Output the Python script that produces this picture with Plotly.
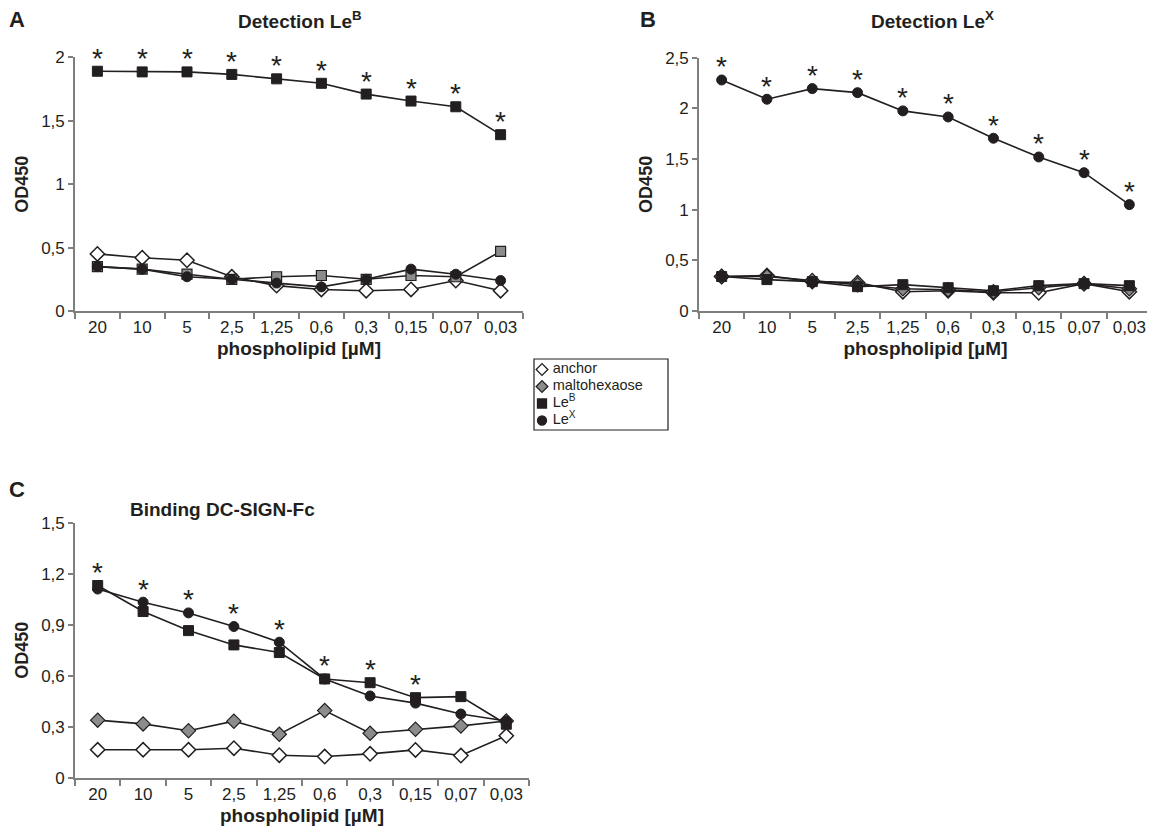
import plotly.graph_objects as go

# ---------------- data ----------------
categories = ["20", "10", "5", "2,5", "1,25", "0,6", "0,3", "0,15", "0,07", "0,03"]

# Panel A - Detection LeB
a_anchor = [0.45, 0.42, 0.40, 0.27, 0.20, 0.17, 0.16, 0.17, 0.24, 0.16]
a_malto  = [0.35, 0.33, 0.29, 0.25, 0.27, 0.28, 0.25, 0.28, 0.27, 0.47]
a_leb    = [1.89, 1.885, 1.885, 1.865, 1.83, 1.795, 1.71, 1.655, 1.61, 1.39]
a_lex    = [0.35, 0.33, 0.27, 0.25, 0.22, 0.19, 0.25, 0.33, 0.29, 0.24]
a_stars  = [1, 1, 1, 1, 1, 1, 1, 1, 1, 1]

# Panel B - Detection LeX
b_anchor = [0.34, 0.35, 0.29, 0.28, 0.19, 0.20, 0.18, 0.18, 0.27, 0.19]
b_malto  = [0.34, 0.34, 0.30, 0.26, 0.22, 0.21, 0.19, 0.23, 0.27, 0.22]
b_leb    = [0.34, 0.31, 0.29, 0.24, 0.26, 0.23, 0.20, 0.25, 0.27, 0.25]
b_lex    = [2.28, 2.09, 2.195, 2.155, 1.975, 1.915, 1.705, 1.52, 1.365, 1.05]
b_stars  = [1, 1, 1, 1, 1, 1, 1, 1, 1, 1]

# Panel C - Binding DC-SIGN-Fc
c_anchor = [0.166, 0.166, 0.166, 0.175, 0.134, 0.126, 0.142, 0.165, 0.132, 0.248]
c_malto  = [0.340, 0.318, 0.278, 0.334, 0.257, 0.396, 0.263, 0.286, 0.306, 0.335]
c_leb    = [1.131, 0.978, 0.866, 0.782, 0.737, 0.582, 0.560, 0.472, 0.478, 0.316]
c_lex    = [1.110, 1.033, 0.970, 0.890, 0.798, 0.582, 0.482, 0.440, 0.376, 0.335]
c_stars  = [1, 1, 1, 1, 1, 1, 1, 1, 0, 0]

series_names = ["anchor", "maltohexaose", "Le<sup>B</sup>", "Le<sup>X</sup>"]

# ---------------- styles ----------------
FONT = "Arial, Liberation Sans, Helvetica, sans-serif"
AXIS_GRAY = "#7f7f7f"
TXT = "#231f20"
OFF = 8            # page body margin in the browser
W, H = 1155 - OFF, 832 - OFF

def px_x(p):
    return (p - OFF) / W

def px_y(p):
    return 1 - (p - OFF) / H

marker_styles = {
    "anchor": dict(symbol="diamond", color="white", size=11, line=dict(color="#231f20", width=1.5)),
    "malto": dict(symbol="diamond", color="#8c8c8c", size=11, line=dict(color="#231f20", width=1.2)),
    "malto_sq": dict(symbol="square", color="#8c8c8c", size=10, line=dict(color="#231f20", width=1.2)),
    "leb": dict(symbol="square", color="#231f20", size=10, line=dict(color="#231f20", width=1)),
    "lex": dict(symbol="circle", color="#231f20", size=10, line=dict(color="#231f20", width=1)),
}

fig = go.Figure()
cat_idx = list(range(len(categories)))

panels = [
    dict(xa="x", ya="y", data=[(a_anchor, "anchor"), (a_malto, "malto_sq"), (a_lex, "lex"), (a_leb, "leb")],
         stars=a_stars, star_ref=[a_leb]),
    dict(xa="x2", ya="y2", data=[(b_anchor, "anchor"), (b_malto, "malto"), (b_leb, "leb"), (b_lex, "lex")],
         stars=b_stars, star_ref=[b_lex]),
    dict(xa="x3", ya="y3", data=[(c_anchor, "anchor"), (c_malto, "malto"), (c_leb, "leb"), (c_lex, "lex")],
         stars=c_stars, star_ref=[c_leb, c_lex]),
]

for p in panels:
    for vals, key in p["data"]:
        fig.add_trace(go.Scatter(
            x=categories, y=vals, mode="lines+markers",
            line=dict(color="#231f20", width=1.6),
            marker=marker_styles[key],
            xaxis=p["xa"], yaxis=p["ya"], showlegend=False, hoverinfo="skip",
        ))
    # significance stars above the top series
    for i, flag in enumerate(p["stars"]):
        if flag:
            top = max(s[i] for s in p["star_ref"])
            fig.add_annotation(
                x=cat_idx[i], y=top, xref=p["xa"], yref=p["ya"],
                text="*", showarrow=False, yanchor="middle", yshift=13,
                font=dict(family=FONT, size=28, color=TXT),
            )

# ---------------- custom legend (hidden axis) ----------------
leg_keys = ["anchor", "malto", "leb", "lex"]
leg_rows = list(range(len(series_names)))
leg_markers = [marker_styles[k] for k in leg_keys]
fig.add_trace(go.Scatter(
    x=[0] * len(leg_rows), y=leg_rows, mode="markers+text",
    text=["\u00a0" + n for n in series_names], textposition="middle right",
    textfont=dict(family=FONT, size=14.5, color=TXT),
    marker=dict(
        symbol=[m["symbol"] for m in leg_markers],
        color=[m["color"] for m in leg_markers],
        size=9,
        line=dict(color="#231f20", width=1.3),
    ),
    xaxis="x4", yaxis="y4", showlegend=False, hoverinfo="skip", cliponaxis=False,
))
fig.add_shape(type="rect", xref="paper", yref="paper",
              x0=px_x(534), x1=px_x(668), y0=px_y(430), y1=px_y(359),
              line=dict(color="#231f20", width=1.2), fillcolor="rgba(0,0,0,0)")

# ---------------- axes ----------------
def xaxis_cfg(dom):
    return dict(
        domain=dom, type="category", range=[-0.5, 9.5], automargin=False,
        showline=True, linecolor=AXIS_GRAY, linewidth=1.6,
        ticks="outside", tickson="boundaries", ticklen=6, tickcolor=AXIS_GRAY, tickwidth=1.6,
        showgrid=False, zeroline=False,
        tickfont=dict(family=FONT, size=17, color=TXT),
        title=dict(text="<b>phospholipid [µM]</b>", font=dict(family=FONT, size=19, color=TXT), standoff=5),
    )

def yaxis_cfg(dom, rng, dtick):
    return dict(
        domain=dom, range=rng, dtick=dtick, tick0=0, automargin=False,
        showline=True, linecolor=AXIS_GRAY, linewidth=1.6,
        ticks="outside", ticklen=5, tickcolor=AXIS_GRAY, tickwidth=1.6,
        showgrid=False, zeroline=False,
        tickfont=dict(family=FONT, size=17, color=TXT),
        title=dict(text="<b>OD450</b>", font=dict(family=FONT, size=18, color=TXT), standoff=8),
    )

leg_x0, leg_x1, leg_sym = 534, 668, 542
fig.update_layout(
    width=W, height=H,
    margin=dict(l=0, r=0, t=0, b=0, autoexpand=False),
    paper_bgcolor="white", plot_bgcolor="white",
    separators=", ",
    font=dict(family=FONT, color=TXT),
    showlegend=False,
    xaxis=dict(xaxis_cfg([px_x(75), px_x(523)]), anchor="y"),
    yaxis=dict(yaxis_cfg([px_y(311), px_y(57.3)], [0, 2], 0.5), anchor="x"),
    xaxis2=dict(xaxis_cfg([px_x(699), px_x(1152)]), anchor="y2"),
    yaxis2=dict(yaxis_cfg([px_y(311), px_y(57.7)], [0, 2.5], 0.5), anchor="x2"),
    xaxis3=dict(xaxis_cfg([px_x(75), px_x(529)]), anchor="y3"),
    yaxis3=dict(yaxis_cfg([px_y(778), px_y(522.7)], [0, 1.5], 0.3), anchor="x3"),
    xaxis4=dict(domain=[px_x(leg_x0), px_x(leg_x1)], range=[-(leg_sym - leg_x0), leg_x1 - leg_sym],
                visible=False, fixedrange=True, anchor="y4"),
    yaxis4=dict(domain=[px_y(429), px_y(361)], range=[3.5, -0.5],
                visible=False, fixedrange=True, anchor="x4"),
)

# panel titles and letters
titles = [
    ("<b>Detection Le<sup>B</sup></b>", 300, 20),
    ("<b>Detection Le<sup>X</sup></b>", 932, 20),
    ("<b>Binding DC-SIGN-Fc</b>", 222, 510),
]
for text, xp, yp in titles:
    fig.add_annotation(text=text, x=px_x(xp), y=px_y(yp), xref="paper", yref="paper",
                       showarrow=False, xanchor="center", yanchor="middle",
                       font=dict(family=FONT, size=19, color=TXT))

letters = [("A", 17, 19), ("B", 648, 19), ("C", 17, 490)]
for text, xp, yp in letters:
    fig.add_annotation(text=f"<b>{text}</b>", x=px_x(xp), y=px_y(yp), xref="paper", yref="paper",
                       showarrow=False, xanchor="center", yanchor="middle",
                       font=dict(family=FONT, size=22, color=TXT))

fig.write_html("out.html")
